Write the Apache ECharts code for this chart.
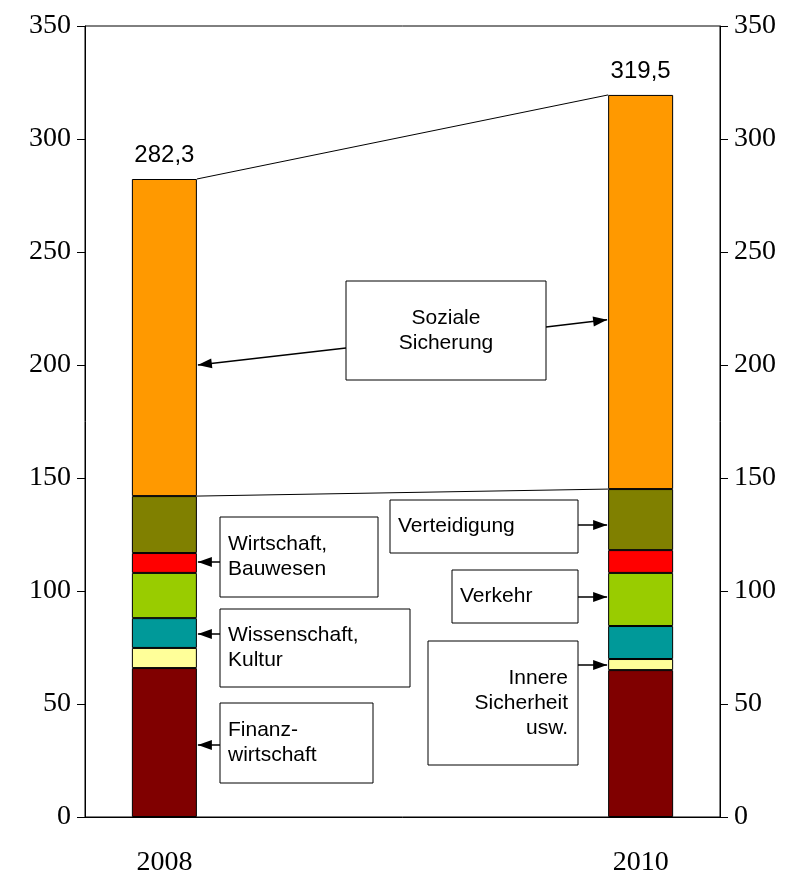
<!DOCTYPE html>
<html>
<head>
<meta charset="utf-8">
<script src="https://cdn.jsdelivr.net/npm/echarts@6/dist/echarts.min.js"></script>
<style>html,body{margin:0;padding:0;background:#fff}#main{width:798px;height:877px}</style>
</head>
<body>
<div id="main"></div>
<script>
// Daten
const years = ['2008', '', '', '2010'];
const segNames = ['Finanzwirtschaft', 'Innere Sicherheit', 'Wissenschaft, Kultur', 'Verkehr', 'Wirtschaft, Bauwesen', 'Verteidigung', 'Soziale Sicherung'];
const segColors = ['#800000', '#ffff99', '#009999', '#99cc00', '#ff0000', '#808000', '#ff9900'];
const values2008 = [65.9, 8.9, 13.2, 20.0, 8.8, 25.2, 140.3];
const values2010 = [65.0, 4.9, 14.6, 23.5, 10.1, 27.0, 174.4];
const totals = ['282,3', '319,5'];

const chart = echarts.init(document.getElementById('main'));
const barW = 65;

const series = segNames.map((name, i) => ({
    name: name,
    type: 'bar',
    stack: 'a',
    barWidth: barW,
    itemStyle: { color: segColors[i], borderColor: '#000', borderWidth: 1 },
    label: i === segNames.length - 1 ? {
        show: true, position: 'top', distance: 12,
        fontFamily: 'Liberation Sans', fontSize: 24, color: '#000',
        formatter: p => p.dataIndex === 0 ? totals[0] : totals[1]
    } : { show: false },
    data: [values2008[i], '-', '-', values2010[i]]
}));

const yAxisBase = {
    type: 'value', min: 0, max: 350, interval: 50,
    axisLine: { show: true, lineStyle: { color: '#000' } },
    axisTick: { show: true, length: 8, lineStyle: { color: '#000' } },
    splitLine: { show: false },
    axisLabel: { fontFamily: 'Liberation Serif', fontSize: 28, color: '#000', margin: 14 }
};

chart.setOption({
    animation: false,
    grid: { left: 85, right: 78, top: 26, bottom: 60, show: true, borderColor: '#000', borderWidth: 1 },
    xAxis: {
        type: 'category', data: years,
        axisLine: { lineStyle: { color: '#000' } },
        axisTick: { show: false },
        axisLabel: { fontFamily: 'Liberation Serif', fontSize: 28, color: '#000', margin: 32, interval: 0 }
    },
    yAxis: [yAxisBase, Object.assign({}, yAxisBase, { position: 'right' })],
    series: series
});

// Verbindungslinien und Beschriftungen
function px(cat, val) { return chart.convertToPixel({ xAxisIndex: 0, yAxisIndex: 0 }, [cat, val]); }
function cum(arr, n) { return arr.slice(0, n).reduce((a, b) => a + b, 0); }

const g = [];
const a = px(0, cum(values2008, 7)), b = px(3, cum(values2010, 7));
const c = px(0, cum(values2008, 6)), d = px(3, cum(values2010, 6));
const L = a[0] + barW / 2, R = b[0] - barW / 2;
g.push({ type: 'line', shape: { x1: L, y1: a[1], x2: R, y2: b[1] }, style: { stroke: '#000', lineWidth: 1 } });
g.push({ type: 'line', shape: { x1: L, y1: c[1], x2: R, y2: d[1] }, style: { stroke: '#000', lineWidth: 1 } });

function box(x, y, w, h, text, align) {
    g.push({ type: 'rect', shape: { x: x, y: y, width: w, height: h }, style: { fill: '#fff', stroke: '#000', lineWidth: 1 }, z: 10 });
    const tx = align === 'right' ? x + w - 10 : align === 'center' ? x + w / 2 : x + 8;
    g.push({ type: 'text', x: tx, y: y + h / 2, z: 11,
        style: { text: text, fill: '#000', font: '21px "Liberation Sans"', textAlign: align, textVerticalAlign: 'middle', lineHeight: 25 } });
}
function arrow(x1, y1, x2, y2) {
    g.push({ type: 'line', z: 12, shape: { x1: x1, y1: y1, x2: x2, y2: y2 }, style: { stroke: '#000', lineWidth: 1.5 } });
    const ang = Math.atan2(y2 - y1, x2 - x1), s = 14, w = 5;
    const bx = x2 - s * Math.cos(ang), by = y2 - s * Math.sin(ang);
    g.push({ type: 'polygon', z: 12, shape: { points: [[x2, y2],
        [bx + w * Math.sin(ang), by - w * Math.cos(ang)], [bx - w * Math.sin(ang), by + w * Math.cos(ang)]] },
        style: { fill: '#000' } });
}

box(346, 281, 200, 99, 'Soziale\nSicherung', 'center');
arrow(346, 348, L + 1, px(0, 200)[1]);
arrow(546, 327, R - 1, px(3, 220)[1]);
box(390, 500, 188, 53, 'Verteidigung', 'left');
arrow(578, 525, R - 1, 525);
box(220, 517, 158, 80, 'Wirtschaft,\nBauwesen', 'left');
arrow(220, 562, L + 1, 562);
box(452, 570, 126, 53, 'Verkehr', 'left');
arrow(578, 597, R - 1, 597);
box(220, 609, 190, 78, 'Wissenschaft,\nKultur', 'left');
arrow(220, 634, L + 1, 634);
box(428, 641, 150, 124, 'Innere\nSicherheit\nusw.', 'right');
arrow(578, 665, R - 1, 665);
box(220, 703, 153, 80, 'Finanz-\nwirtschaft', 'left');
arrow(220, 745, L + 1, 745);

chart.setOption({ graphic: g });
</script>
</body>
</html>
